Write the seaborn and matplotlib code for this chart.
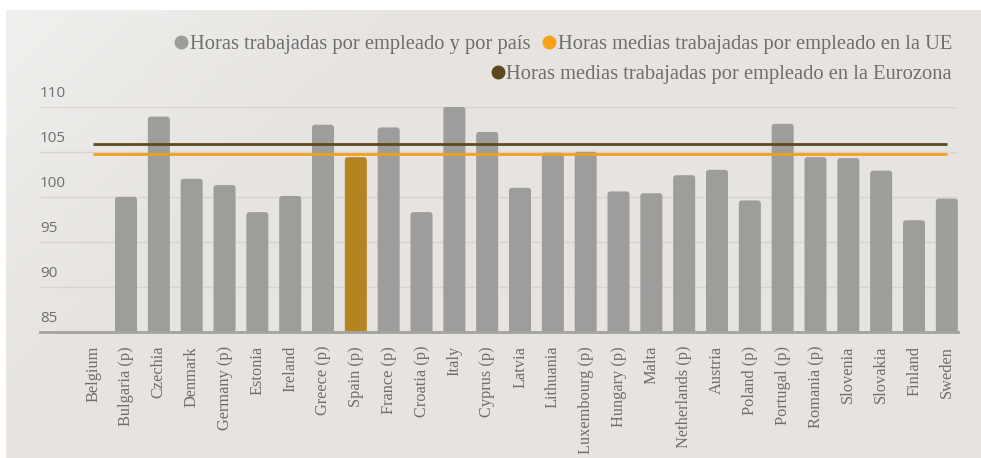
"""Hours worked per employee by country, EU and Eurozone averages."""

import matplotlib

matplotlib.use("Agg")

import matplotlib.pyplot as plt
import numpy as np
import seaborn as sns
from matplotlib.lines import Line2D
from matplotlib.patches import FancyBboxPatch

countries = [
    "Belgium", "Bulgaria (p)", "Czechia", "Denmark", "Germany (p)", "Estonia",
    "Ireland", "Greece (p)", "Spain (p)", "France (p)", "Croatia (p)", "Italy",
    "Cyprus (p)", "Latvia", "Lithuania", "Luxembourg (p)", "Hungary (p)", "Malta",
    "Netherlands (p)", "Austria", "Poland (p)", "Portugal (p)", "Romania (p)",
    "Slovenia", "Slovakia", "Finland", "Sweden",
]
hours = [
    np.nan, 100.0, 108.9, 102.0, 101.3, 98.3,
    100.1, 108.0, 104.4, 107.7, 98.3, 110.0,
    107.2, 101.0, 104.9, 105.0, 100.6, 100.4,
    102.4, 103.0, 99.6, 108.1, 104.4,
    104.3, 102.9, 97.4, 99.8,
]
eu_mean = 104.7
eurozone_mean = 105.9
y_ticks = [85, 90, 95, 100, 105, 110]

legend_labels = [
    "Horas trabajadas por empleado y por país",
    "Horas medias trabajadas por empleado en la UE",
    "Horas medias trabajadas por empleado en la Eurozona",
]

GREY = "#9d9d9b"
SPAIN = "#b5831f"
ORANGE = "#f5a21a"
BROWN = "#5c4a1e"
TEXT = "#6e6e6e"
SERIF = ["Liberation Serif", "DejaVu Serif"]

sns.set_theme(style="white")

fig = plt.figure(figsize=(9.81, 4.58), dpi=100, facecolor="white")

# light grey panel with a soft gradient
bg = fig.add_axes([6 / 981, 0, 1 - 6 / 981, 1 - 10 / 458])
gx, gy = np.meshgrid(np.linspace(0, 1, 200), np.linspace(0, 1, 100))
grad = np.clip(1 - (gx * 2.5 + gy * 1.2), 0, 1)
c0 = np.array([0.905, 0.894, 0.882])
c1 = np.array([0.945, 0.941, 0.933])
img = c0[None, None, :] + (c1 - c0)[None, None, :] * grad[:, :, None]
bg.imshow(img, aspect="auto", extent=[0, 1, 0, 1], origin="upper")
bg.set_axis_off()

ax = fig.add_axes([40 / 981, (458 - 332) / 458, (958 - 40) / 981, (332 - 106.7) / 458])
ax.patch.set_alpha(0)

palette = {c: (SPAIN if c.startswith("Spain") else GREY) for c in countries}
sns.barplot(x=countries, y=hours, hue=countries, palette=palette, legend=False,
            width=0.67, saturation=1, linewidth=0, ax=ax, zorder=2)

# swap the plain bars for ones with slightly rounded tops
for bar in list(ax.patches):
    x, y = bar.get_xy()
    w, h = bar.get_width(), bar.get_height()
    if not np.isfinite(h):
        bar.remove()
        continue
    rounded = FancyBboxPatch((x, y), w, h,
                             boxstyle="round,pad=0,rounding_size=0.09",
                             mutation_aspect=3.6, facecolor=bar.get_facecolor(),
                             edgecolor="none", zorder=2)
    bar.remove()
    ax.add_patch(rounded)

n = len(countries)
ax.hlines(eurozone_mean, 0, n - 1, color=BROWN, linewidth=2, zorder=3)
ax.hlines(eu_mean, 0, n - 1, color=ORANGE, linewidth=2, zorder=3)

ax.set_xlim(-1.62, n - 1 + 0.34)
ax.set_ylim(85, 110)
ax.set_yticks(y_ticks)
ax.set_yticklabels([])
ax.tick_params(axis="y", length=0)
ax.grid(axis="y", color="#d6d3d0", linewidth=1, zorder=0)
ax.set_axisbelow(True)
for v in y_ticks:
    ax.annotate(str(v), xy=(0, v), xycoords=ax.get_yaxis_transform(),
                xytext=(0, 4), textcoords="offset points", ha="left", va="bottom",
                fontsize=11, color=TEXT, family=["Open Sans", "DejaVu Sans"])

for side in ["top", "right", "left"]:
    ax.spines[side].set_visible(False)
ax.spines["bottom"].set_color("#a3a3a1")
ax.spines["bottom"].set_linewidth(2)
ax.spines["bottom"].set_zorder(4)

ax.set_xticks(range(n))
ax.set_xticklabels(countries, rotation=90, fontsize=11.8, color=TEXT, family=SERIF)
ax.tick_params(axis="x", length=0, pad=10)
ax.set_xlabel("")
ax.set_ylabel("")


def dot(color):
    return Line2D([], [], marker="o", linestyle="", markersize=9,
                  markerfacecolor=color, markeredgecolor=color)


leg1 = fig.legend([dot(GREY), dot(ORANGE)], legend_labels[:2], ncol=2,
                  loc="center right", bbox_to_anchor=(960 / 981, (458 - 44) / 458),
                  frameon=False, handlelength=0.6, handletextpad=0.12,
                  columnspacing=0.6, borderaxespad=0,
                  prop={"family": SERIF, "size": 14.8})
leg2 = fig.legend([dot(BROWN)], legend_labels[2:], loc="center right",
                  bbox_to_anchor=(960 / 981, (458 - 74) / 458),
                  frameon=False, handlelength=0.6, handletextpad=0.12,
                  borderaxespad=0, prop={"family": SERIF, "size": 14.8})
for leg in (leg1, leg2):
    for t in leg.get_texts():
        t.set_color(TEXT)

fig.savefig("out.png", dpi=100, facecolor="white")
